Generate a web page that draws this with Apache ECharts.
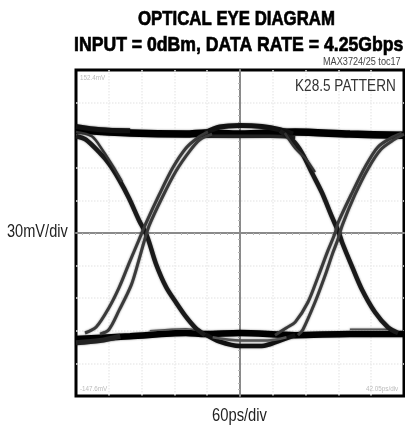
<!DOCTYPE html>
<html><head><meta charset="utf-8">
<style>html,body{margin:0;padding:0;background:#fff}#c{width:405px;height:430px}#c canvas{filter:blur(0.45px)}</style>
<script src="https://cdn.jsdelivr.net/npm/echarts@6/dist/echarts.min.js"></script>
</head><body><div id="c"></div>
<script>
const titleLine1 = "OPTICAL EYE DIAGRAM";
const titleLine2 = "INPUT = 0dBm, DATA RATE = 4.25Gbps";
const noteText = "MAX3724/25 toc17";
const patternText = "K28.5 PATTERN";
const yCaption = "30mV/div";
const xCaption = "60ps/div";
const cornerTop = "152.4mV";
const cornerLeft = "-147.6mV";
const cornerRight = "42.05ps/div";

const topRail = [[-300,95],[-201,92],[-99,91],[-64,92],[0,91],[101,93],[201,91],[300,90]];
const topRailLeft = [[-300,98],[-256,95],[-201,94]];
const topHumpOuter = [[-64,92],[-37,97.5],[0,99],[40,98],[73,95],[97,91]];
const topHumpInner = [[-64,89],[0,89],[55,89],[101,88]];
const bottomRail = [[-300,-97.5],[-201,-95],[-99,-92],[-64,-93],[0,-92],[101,-94],[201,-93],[300,-93]];
const bottomRailLeft = [[-300,-101],[-256,-99],[-219,-95]];
const bottomFaintLeft = [[-165,-90],[-99,-88],[-73,-90]];
const bottomFaintRight = [[201,-88.5],[270,-88.5]];
const bottomHumpOuter = [[-64,-93],[-37,-100],[0,-104],[40,-104],[73,-99],[101,-94]];
const bottomHumpInner = [[-50,-96],[0,-99],[50,-99],[85,-96]];
const fallA = [[-300,89],[-282,86],[-258,74.5],[-240,64],[-221,49],[-203,32],[-185,12],[-170,-3],[-154,-28],[-135,-50],[-117,-64],[-99,-77],[-82,-87],[-64,-94]];
const fallAUpper = [[-300,93],[-271,89],[-251,76],[-232,61],[-216,47]];
const riseALeft = [[-283.5,-92],[-263,-86.5],[-240,-69],[-221,-50],[-203,-28],[-185,-6.5],[-172,9],[-148,35],[-123,60],[-99,78],[-79,87],[-58.5,93]];
const riseARight = [[-256,-93],[-240,-89],[-221,-71],[-199,-48],[-185,-25],[-176,-9],[-166,7],[-143,32],[-117,57],[-91,76],[-73,86],[-51,91]];
const fallB = [[73,94],[97,85],[113,74],[132,55],[150,37],[168,15],[181,0],[187,-9],[205,-31],[223,-52],[247,-73],[271,-87],[289,-92]];
const fallBUpper = [[82,92],[101,78],[119,69],[137,56]];
const riseBLeft = [[64,-94],[86,-87],[101,-82],[124,-64],[143,-40],[161,-16],[174,0],[179,9],[205,37],[229,61],[252,79],[278,88],[296,92]];
const riseBRight = [[106,-94],[115,-89],[137,-64],[155,-40],[170,-18],[179,-6],[187,7],[210,35],[234,59],[258,77],[282,86],[300,91]];

const trace = (data, width, color) => ({
  type:'line', data, showSymbol:false, smooth:0.3, silent:true, clip:true,
  lineStyle:{color:color||'#1a1a1a', width, shadowBlur:2, shadowColor:'rgba(0,0,0,0.5)'}
});
const label = (text, x, y, size, sx, color, bold) => ({
  type:'text', x, y, scaleX:sx, z:50, silent:true,
  style:{text, fontFamily:'"Liberation Sans",sans-serif', fontSize:size, fontWeight:bold?'bold':'normal',
    fill:color, textAlign:'left', textVerticalAlign:'middle',
    stroke:bold?color:null, lineWidth:bold?0.7:0}
});
const axisCommon = {
  type:'value',
  axisLabel:{show:false},
  axisLine:{show:true,onZero:true,lineStyle:{color:'#8a8a8a',width:2}},
  axisTick:{show:false},
  minorTick:{show:true,splitNumber:5,length:2,lineStyle:{color:'#b5b5b5'}},
  splitLine:{show:true,showMinLine:false,showMaxLine:false,lineStyle:{color:'#ececec',type:'dotted',width:1.5}}
};

const chart = echarts.init(document.getElementById('c'),null,{renderer:'canvas'});
chart.setOption({
  animation:false,
  backgroundColor:'#fff',
  graphic:[
    label(titleLine1,138,19,21,0.80,'#000',true),
    label(titleLine2,74,45,21,0.84,'#000',true),
    label(noteText,323,62,10.5,0.87,'#444'),
    label(patternText,295,86,17,0.80,'#333'),
    label(yCaption,7,232,18,0.81,'#222'),
    label(xCaption,212,416,18,0.82,'#222'),
    label(cornerTop,80,78,7,0.9,'#bbb'),
    label(cornerLeft,80,389,7,0.9,'#bbb'),
    label(cornerRight,366,389,7,0.9,'#bbb')
  ],
  grid:{left:76,top:70,width:328,height:326,show:true,borderColor:'#000',borderWidth:3},
  xAxis:Object.assign({min:-300,max:300,interval:60},axisCommon),
  yAxis:Object.assign({min:-150,max:150,interval:30},axisCommon),
  series:[
    trace(topRail,7.5,'#000'),
    trace(topRailLeft,5,'#111'),
    trace(topHumpOuter,5,'#111'),
    trace(topHumpInner,3.5,'#222'),
    trace(bottomRail,6.5,'#000'),
    trace(bottomRailLeft,5,'#222'),
    trace(bottomFaintLeft,1.5,'#555'),
    trace(bottomFaintRight,1.5,'#555'),
    trace(bottomHumpOuter,4.5,'#111'),
    trace(bottomHumpInner,2.5,'#555'),
    trace(fallA,4.5),
    trace(fallAUpper,2.5,'#333'),
    trace(riseALeft,3,'#3a3a3a'),
    trace(riseARight,3,'#3a3a3a'),
    trace(fallB,4.5),
    trace(fallBUpper,2.5,'#333'),
    trace(riseBLeft,3,'#3a3a3a'),
    trace(riseBRight,3,'#3a3a3a')
  ]
});
</script></body></html>
